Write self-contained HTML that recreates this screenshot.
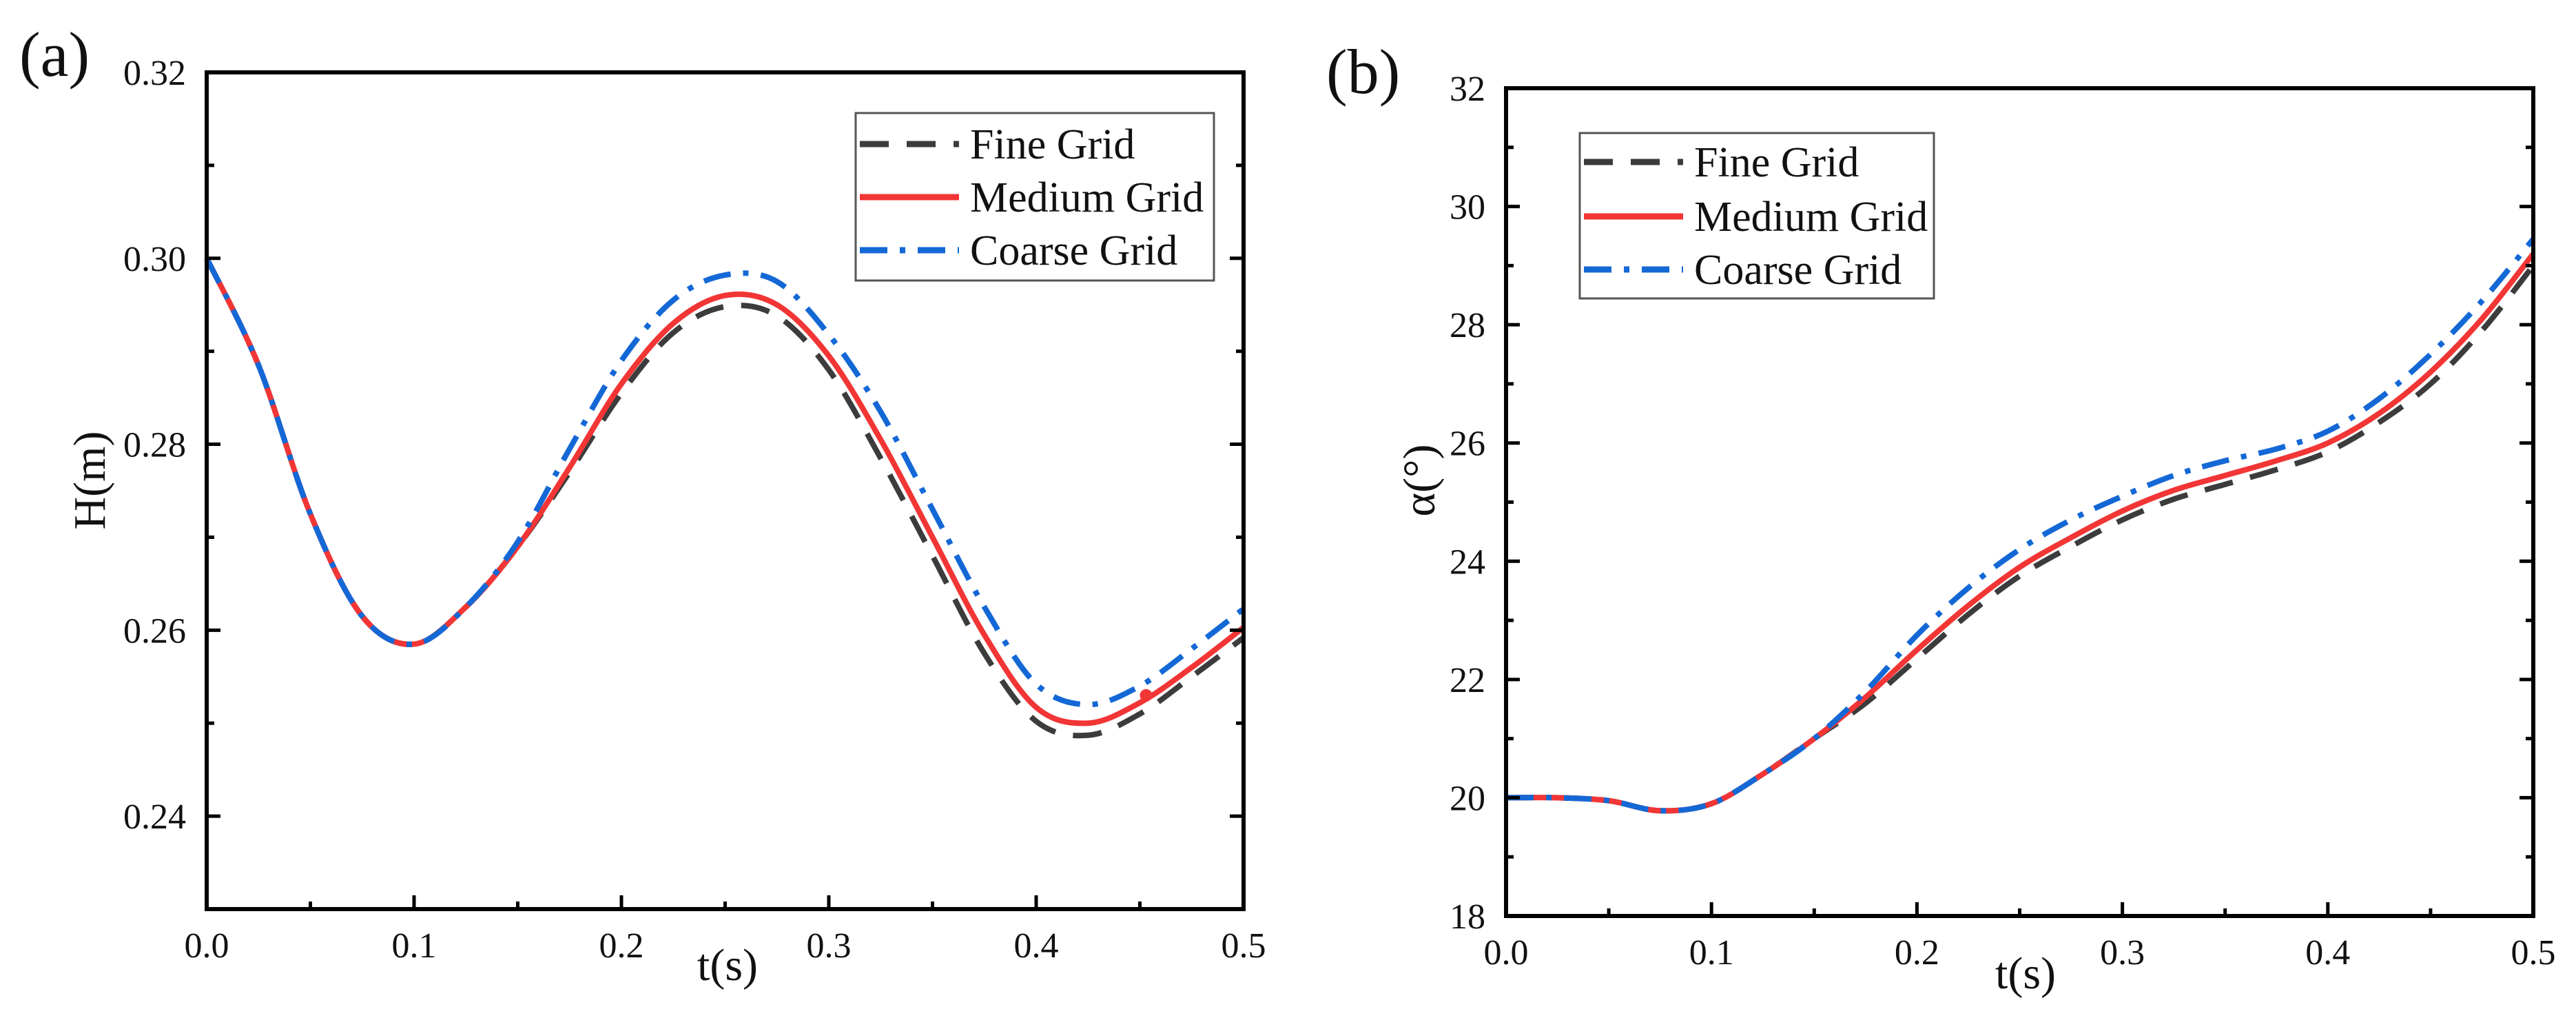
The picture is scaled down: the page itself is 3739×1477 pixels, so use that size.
<!DOCTYPE html>
<html><head><meta charset="utf-8">
<style>
html,body{margin:0;padding:0;background:#fff;}
svg{display:block;font-family:"Liberation Serif",serif;}
</style></head>
<body>
<svg id="fig" width="3739" height="1477" viewBox="0 0 3739 1477" xmlns="http://www.w3.org/2000/svg">
<rect width="3739" height="1477" fill="#fff"/>
</svg>
<script>
const tVals = [0,0.025,0.05,0.075,0.1,0.125,0.15,0.175,0.2,0.225,0.25,0.275,0.3,0.325,0.35,0.375,0.4,0.425,0.45,0.475,0.5];
const hFine   = [0.300,0.2885,0.2725,0.2615,0.2585,0.2625,0.2690,0.2770,0.2855,0.2920,0.2948,0.2938,0.2880,0.2785,0.2680,0.2575,0.2502,0.2487,0.2510,0.2550,0.2592];
const hMedium = [0.300,0.2885,0.2725,0.2615,0.2585,0.2625,0.2690,0.2775,0.2865,0.2930,0.2960,0.2950,0.2895,0.2805,0.2700,0.2595,0.2517,0.2500,0.2522,0.2560,0.2603];
const hCoarse = [0.300,0.2885,0.2725,0.2615,0.2585,0.2625,0.2695,0.2795,0.2890,0.2955,0.2982,0.2975,0.2918,0.2835,0.2730,0.2625,0.2542,0.2520,0.2540,0.2580,0.2623];
const aFine   = [20,20,19.95,19.78,19.9,20.4,21.0,21.6,22.35,23.1,23.75,24.25,24.7,25.05,25.3,25.55,25.85,26.35,27.0,27.9,29.0];
const aMedium = [20,20,19.95,19.78,19.9,20.4,21.0,21.7,22.5,23.25,23.9,24.4,24.85,25.2,25.45,25.7,26.0,26.5,27.2,28.1,29.2];
const aCoarse = [20,20,19.95,19.78,19.9,20.4,21.0,21.8,22.75,23.55,24.2,24.7,25.1,25.45,25.7,25.9,26.2,26.75,27.5,28.4,29.45];
const xTicks = ["0.0","0.1","0.2","0.3","0.4","0.5"];
const hTicks = ["0.24","0.26","0.28","0.30","0.32"];
const aTicks = ["18","20","22","24","26","28","30","32"];
const markerPoint = [0.453,0.2530];

const NS="http://www.w3.org/2000/svg";
const svg=document.getElementById('fig');
function mk(tag,attrs,parent){const e=document.createElementNS(NS,tag);for(const k in attrs)e.setAttribute(k,attrs[k]);(parent||svg).appendChild(e);return e;}
function smooth(pts){let d=`M${pts[0][0]},${pts[0][1]}`;for(let i=0;i<pts.length-1;i++){const p0=pts[Math.max(0,i-1)],p1=pts[i],p2=pts[i+1],p3=pts[Math.min(pts.length-1,i+2)];const c1=[p1[0]+(p2[0]-p0[0])/6,p1[1]+(p2[1]-p0[1])/6],c2=[p2[0]-(p3[0]-p1[0])/6,p2[1]-(p3[1]-p1[1])/6];d+=`C${c1[0]},${c1[1]} ${c2[0]},${c2[1]} ${p2[0]},${p2[1]}`;}return d;}

function panel(o){
  const g=mk('g',{});
  
  
  const X=v=>o.x0+(v-0)/(0.5)*(o.x1-o.x0);
  const Y=v=>o.y1-(v-o.ymin)/(o.ymax-o.ymin)*(o.y1-o.y0);
  const styles=[
    {vals:o.fine,color:'#3c3c3c',dash:'42 26',name:'fine-grid-line'},
    {vals:o.medium,color:'#f23535',dash:'',name:'medium-grid-line'},
    {vals:o.coarse,color:'#1468d6',dash:'40 18 8 18',name:'coarse-grid-line'}];
  styles.forEach(s=>{
    const pts=tVals.map((t,i)=>[X(t),Y(s.vals[i])]);
    const p=mk('path',{d:smooth(pts),fill:'none',stroke:s.color,'stroke-width':8,'stroke-dasharray':s.dash},g);
    
    
  });
  if(o.marker){const c=mk('circle',{cx:X(o.marker[0]),cy:Y(o.marker[1]),r:9,fill:'#f23535'},g);
    
    }
  const box=mk('rect',{x:o.x0,y:o.y0,width:o.x1-o.x0,height:o.y1-o.y0,fill:'none',stroke:'#000','stroke-width':6},g);
  
  
  xTicks.forEach((lab,i)=>{const v=i*0.1,x=X(v);
    mk('line',{x1:x,y1:o.y1,x2:x,y2:o.y1-20,stroke:'#000','stroke-width':5},g);
    if(i<5){const xm=X(v+0.05);mk('line',{x1:xm,y1:o.y1,x2:xm,y2:o.y1-11,stroke:'#000','stroke-width':5},g);}
    const t=mk('text',{x:x,y:o.y1+70,'font-size':52,'text-anchor':'middle',fill:'#111'},g);t.textContent=lab;
    
    
  });
  o.yTicks.forEach((lab,i)=>{const v=parseFloat(lab),y=Y(v);
    [[o.x0,20],[o.x1,-20]].forEach(([xx,l])=>{mk('line',{x1:xx,y1:y,x2:xx+l,y2:y,stroke:'#000','stroke-width':5},g);
      const ym=Y(v+o.minor);if(v+o.minor<o.ymax+1e-9)mk('line',{x1:xx,y1:ym,x2:xx+l*0.55,y2:ym,stroke:'#000','stroke-width':5},g);
      if(i===0&&v-o.minor>o.ymin-1e-9){const y2=Y(v-o.minor);mk('line',{x1:xx,y1:y2,x2:xx+l*0.55,y2:y2,stroke:'#000','stroke-width':5},g);}
    });
    const t=mk('text',{x:o.x0-30,y:y+18,'font-size':52,'text-anchor':'end',fill:'#111'},g);t.textContent=lab;
    
    
  });
  const xt=mk('text',{x:o.xtx,y:o.xty,'font-size':66,'text-anchor':'middle',fill:'#111'},g);xt.textContent='t(s)';
  
  
  const yt=mk('text',{x:0,y:0,'font-size':66,'text-anchor':'middle',fill:'#111',transform:`translate(${o.ytx},${o.yty}) rotate(-90)`},g);yt.textContent=o.ytitle;
  
  
  const pl=mk('text',{x:o.plx,y:o.ply,'font-size':92,fill:'#111'},g);pl.textContent=o.label;
  
  
  const L=o.leg;
  const lg=mk('g',{},g);
  
  
  mk('rect',{x:L.x,y:L.y,width:L.w,height:L.h,fill:'#fff',stroke:'#555','stroke-width':3},lg);
  const names=['Fine Grid','Medium Grid','Coarse Grid'];
  styles.forEach((s,i)=>{const cy=L.y+L.rows[i];
    const ln=mk('line',{x1:L.x+6,y1:cy,x2:L.x+150,y2:cy,stroke:s.color,'stroke-width':9,'stroke-dasharray':s.dash},lg);
    
    
    const t=mk('text',{x:L.x+166,y:cy+21,'font-size':62,fill:'#111'},lg);t.textContent=names[i];
    
    
  });
}

panel({name:'panel-a-height',x0:300,x1:1805,y0:105,y1:1319,ymin:0.23,ymax:0.32,minor:0.01,yTicks:hTicks,
  fine:hFine,medium:hMedium,coarse:hCoarse,marker:markerPoint,
  xtx:1056,xty:1422,ytx:152,yty:697,ytitle:'H(m)',label:'(a)',plx:28,ply:110,
  leg:{x:1242,y:164,w:520,h:243,rows:[45,122,199]}});
panel({name:'panel-b-angle',x0:2186,x1:3677,y0:128,y1:1329,ymin:18,ymax:32,minor:1,yTicks:aTicks,
  fine:aFine,medium:aMedium,coarse:aCoarse,marker:null,
  xtx:2940,xty:1434,ytx:2082,yty:697,ytitle:'α(°)',label:'(b)',plx:1925,ply:135,
  leg:{x:2293,y:193,w:514,h:240,rows:[42,121,198]}});
</script>
</body></html>
